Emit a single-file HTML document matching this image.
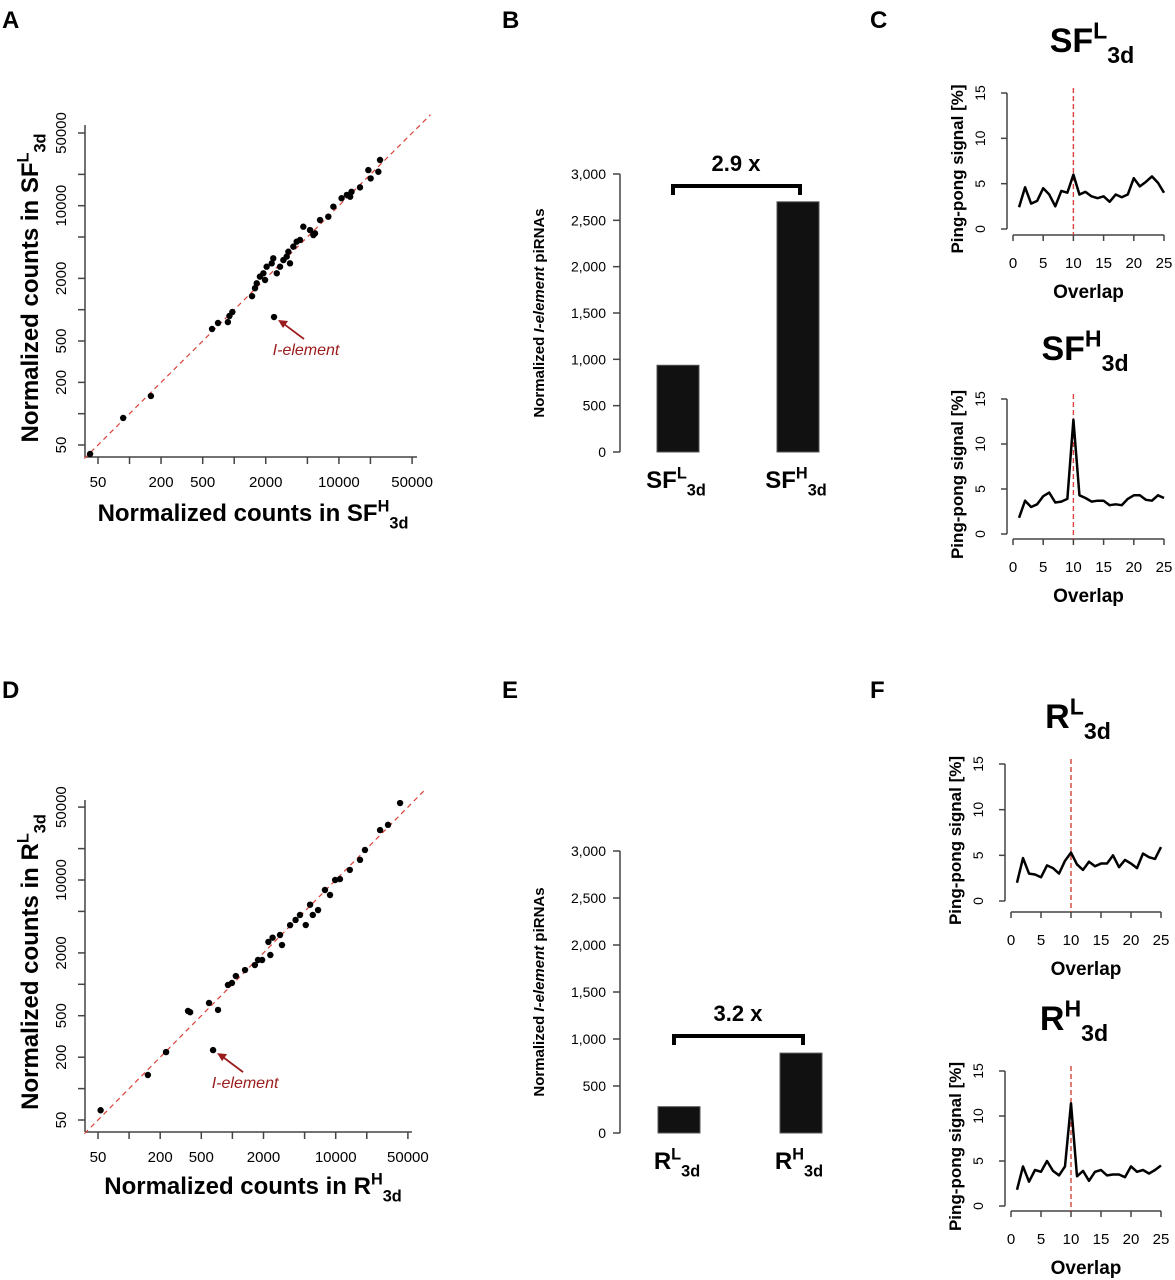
<!DOCTYPE html>
<html><head><meta charset="utf-8"><style>
body{margin:0;background:#fff;}
svg{display:block;font-family:"Liberation Sans",Arial,sans-serif;}
</style></head><body>
<svg id="fig" width="1175" height="1280" viewBox="0 0 1175 1280" xmlns="http://www.w3.org/2000/svg">
<g id="root"></g>
</svg>
<script>
// ---------- DATA ----------
const scatterTicks = [50,100,200,500,1000,2000,5000,10000,20000,50000];
const scatterLabels = [50,200,500,2000,10000,50000];
const sfH = [42,87,160,614,700,870,900,960,1480,1580,1760,1640,1900,2040,2280,2550,2950,3410,3290,3670,4250,4570,5300,5910,6600,7920,8850,10600,11900,13200,15900,19100,20100,23800,24700,2360,1970,5700,12800,2740,3170,3950,2400];
const sfL = [41,91,148,652,745,760,870,950,1350,1610,2080,1795,2240,2590,2790,2240,3000,2790,3610,4040,4680,6280,5830,5420,7280,7840,9790,11800,12700,13600,15000,22000,18300,21200,27500,3120,1930,5220,12200,2590,3240,4510,850];
const rH = [53,152,228,372,390,594,726,990,1325,1940,2230,2450,2890,3620,4510,5650,6750,8810,10990,13700,19200,26900,32100,42000,1770,2330,4090,5130,7870,9880,17200,1650,3020,6000,906,1080,650];
const rL = [62,135,224,555,540,662,568,1030,1370,1710,2550,2800,2970,3690,4620,5800,5150,7180,10200,12500,19400,30100,33800,54700,1710,1910,4140,3700,8020,10000,15600,1530,2380,4620,985,1200,234];
const barTicks = [0,500,1000,1500,2000,2500,3000];
const barTickLabels = ["0","500","1,000","1,500","2,000","2,500","3,000"];
const sfBars = [936,2700];
const rBars = [280,850];
const ppTicks = [0,5,10,15,20,25];
const ppYTicks = [0,5,10,15];
const ppSFL = [2.4,4.6,2.8,3.1,4.5,3.8,2.5,4.2,4.0,6.0,3.8,4.1,3.6,3.4,3.6,3.0,3.8,3.5,3.8,5.6,4.7,5.2,5.8,5.1,4.0];
const ppSFH = [1.8,3.7,3.0,3.3,4.2,4.6,3.5,3.6,3.9,12.7,4.3,4.0,3.6,3.7,3.7,3.2,3.3,3.2,3.9,4.3,4.3,3.8,3.7,4.3,4.0];
const ppRL = [2.0,4.7,3.0,2.9,2.6,3.9,3.6,3.0,4.4,5.3,4.0,3.4,4.3,3.8,4.1,4.1,5.0,3.7,4.5,4.1,3.6,5.2,4.8,4.6,5.9];
const ppRH = [1.8,4.4,2.7,4.0,3.8,5.0,3.9,3.4,4.4,11.4,3.3,3.9,2.8,3.8,4.0,3.4,3.5,3.5,3.2,4.4,3.8,4.0,3.6,4.0,4.5];

// ---------- HELPERS ----------
const NS="http://www.w3.org/2000/svg";
const root=document.getElementById('root');
function el(tag,attrs,parent,text){const e=document.createElementNS(NS,tag);for(const k in attrs)e.setAttribute(k,attrs[k]);if(text!==undefined)e.textContent=text;(parent||root).appendChild(e);return e;}
function grp(name){const g=el('g',{});return g;}

function title(g,x,y,size,base,sup,sub,anchor,rot){
  const t=el('text',{x:x,y:y,'font-size':size,'font-weight':'bold','text-anchor':anchor||'middle',transform:rot?`rotate(-90 ${x} ${y})`:''},g);
  el('tspan',{},t,base);
  el('tspan',{'font-size':size*0.68,dy:-size*0.4},t,sup);
  el('tspan',{'font-size':size*0.68,dy:size*0.72},t,sub);
  return t;
}

function scatter(name,xs,ys,c){
  const g=grp(name);
  const L0=Math.log10(50);
  const X=v=>c.x50+(Math.log10(v)-L0)*c.xs;
  const Y=v=>c.y50-(Math.log10(v)-L0)*c.ys;
  const ax=el('line',{x1:c.axX,y1:c.top,x2:c.axX,y2:c.axY,stroke:'#444','stroke-width':1.5},g);
  
  const ax2=el('line',{x1:c.axX,y1:c.axY,x2:c.right,y2:c.axY,stroke:'#444','stroke-width':1.5},g);
  
  scatterTicks.forEach(t=>{
    el('line',{x1:X(t),y1:c.axY,x2:X(t),y2:c.axY+7,stroke:'#444','stroke-width':1.5},g);
    el('line',{x1:c.axX,y1:Y(t),x2:c.axX-7,y2:Y(t),stroke:'#444','stroke-width':1.5},g);
  });
  scatterLabels.forEach(t=>{
    const a=el('text',{x:X(t),y:c.axY+30,'font-size':15,'text-anchor':'middle'},g,String(t));
    
    const b=el('text',{x:c.axX-19,y:Y(t),'font-size':15,'text-anchor':'middle',transform:`rotate(-90 ${c.axX-19} ${Y(t)})`},g,String(t));
    
  });
  const d=el('line',{x1:X(c.dmin),y1:Y(c.dmin),x2:X(c.dmax),y2:Y(c.dmax),stroke:'#d9413a','stroke-width':1.2,'stroke-dasharray':'5,4'},g);
  
  xs.forEach((v,i)=>{
    const p=el('circle',{cx:X(v),cy:Y(ys[i]),r:3.2,fill:'#000'},g);
    
  });
  const n=xs.length-1,px=X(xs[n]),py=Y(ys[n]);
  const ar=el('line',{x1:px+30,y1:py+22,x2:px+6,y2:py+4,stroke:'#9b1c1c','stroke-width':1.8},g);
  
  el('polygon',{points:`${px+4},${py+3} ${px+14},${py+4} ${px+9},${py+11}`,fill:'#9b1c1c'},g);
  const lt=el('text',{x:px+32,y:py+38,'font-size':16,'font-style':'italic',fill:'#9b1c1c','text-anchor':'middle'},g,'I-element');
  
  const xt=title(g,c.xtX,c.xtY,24,'Normalized counts in '+c.lbl,'H','3d');
  
  const yt=title(g,c.ytX,c.ytY,24,'Normalized counts in '+c.lbl,'L','3d','middle',true);
  
}

function bars(name,vals,c){
  const g=grp(name);
  const Y=v=>c.y0-v*(c.y0-c.y3000)/3000;
  const ax=el('line',{x1:c.axX,y1:Y(0),x2:c.axX,y2:Y(3000),stroke:'#444','stroke-width':1.5},g);
  
  barTicks.forEach((t,i)=>{
    el('line',{x1:c.axX,y1:Y(t),x2:c.axX-7,y2:Y(t),stroke:'#444','stroke-width':1.5},g);
    const l=el('text',{x:c.axX-14,y:Y(t)+5,'font-size':14,'text-anchor':'end'},g,barTickLabels[i]);
    
  });
  const t=el('text',{x:c.ytX,y:(Y(0)+Y(3000))/2,'font-size':15,'font-weight':'bold','text-anchor':'middle',transform:`rotate(-90 ${c.ytX} ${(Y(0)+Y(3000))/2})`},g);
  
  el('tspan',{},t,'Normalized ');el('tspan',{'font-style':'italic'},t,'I-element');el('tspan',{},t,' piRNAs');
  const sups=['L','H'];
  vals.forEach((v,i)=>{
    const cx=c.cx[i];
    const r=el('rect',{x:cx-21,y:Y(v),width:42,height:Y(0)-Y(v),fill:'#111',stroke:'#555','stroke-width':1},g);
    
    const lb=title(g,cx-2,Y(0)+36,24,c.lbl,sups[i],'3d');
    
  });
  const by=c.brY;
  const br=el('path',{d:`M${c.cx[0]-5},${by+9} V${by} H${c.cx[1]+2} V${by+9}`,fill:'none',stroke:'#000','stroke-width':4},g);
  
  const fx=el('text',{x:(c.cx[0]+c.cx[1])/2-2,y:by-15,'font-size':22,'font-weight':'bold','text-anchor':'middle'},g,c.fold);
  
}

function pp(name,vals,c,ttl){
  const g=grp(name);
  const X=v=>c.x0+v*(c.x25-c.x0)/25;
  const Y=v=>c.y0-v*(c.y0-c.y15)/15;
  const ya=el('line',{x1:c.axX,y1:Y(0),x2:c.axX,y2:Y(15),stroke:'#444','stroke-width':1.5},g);
  
  const xa=el('line',{x1:X(0),y1:c.axY,x2:X(25),y2:c.axY,stroke:'#444','stroke-width':1.5},g);
  
  ppYTicks.forEach(t=>{
    el('line',{x1:c.axX,y1:Y(t),x2:c.axX-6,y2:Y(t),stroke:'#444','stroke-width':1.5},g);
    const l=el('text',{x:c.axX-22,y:Y(t),'font-size':14,'text-anchor':'middle',transform:`rotate(-90 ${c.axX-22} ${Y(t)})`},g,String(t));
    
  });
  ppTicks.forEach(t=>{
    el('line',{x1:X(t),y1:c.axY,x2:X(t),y2:c.axY+6,stroke:'#444','stroke-width':1.5},g);
    const l=el('text',{x:X(t),y:c.axY+33,'font-size':15,'text-anchor':'middle'},g,String(t));
    
  });
  const ref=el('line',{x1:X(10),y1:Y(15)-5,x2:X(10),y2:c.axY,stroke:'#d9413a','stroke-width':1.4,'stroke-dasharray':'5,3'},g);
  
  const pts=vals.map((v,i)=>X(i+1)+','+Y(v)).join(' ');
  const ln=el('polyline',{points:pts,fill:'none',stroke:'#000','stroke-width':2.5,'stroke-linejoin':'round'},g);
  
  const xt=el('text',{x:X(12.5),y:c.axY+63,'font-size':19,'font-weight':'bold','text-anchor':'middle'},g,'Overlap');
  
  const yx=c.axX-44, yy=(Y(0)+Y(15))/2+8;
  const yt=el('text',{x:yx,y:yy,'font-size':17,'font-weight':'bold','text-anchor':'middle',transform:`rotate(-90 ${yx} ${yy})`},g,'Ping-pong signal [%]');
  
  const tt=title(g,c.tX,c.tY,34,ttl[0],ttl[1],'3d');
  
}

// ---------- PANEL LETTERS ----------
[['A',2,28],['B',502,28],['C',870,28],['D',2,698],['E',502,698],['F',870,698]].forEach(p=>{
  const t=el('text',{x:p[1],y:p[2],'font-size':24,'font-weight':'bold'},root,p[0]);
  
  
});

// ---------- CHARTS ----------
scatter('scatter-sf',sfH,sfL,{x50:98,xs:104.7,y50:445,ys:104,axX:85,axY:457,top:125,right:417,dmin:37,dmax:75000,lbl:'SF',xtX:253,xtY:521,ytX:38,ytY:288});
scatter('scatter-r',rH,rL,{x50:98,xs:103.3,y50:1120,ys:104.3,axX:85,axY:1132,top:800,right:412,dmin:37,dmax:75000,lbl:'R',xtX:253,xtY:1194,ytX:38,ytY:962});

bars('bars-sf',sfBars,{axX:620,y0:452,y3000:174,ytX:544,cx:[678,798],lbl:'SF',brY:186,fold:'2.9 x'});
bars('bars-r',rBars,{axX:620,y0:1133,y3000:851,ytX:544,cx:[679,801],lbl:'R',brY:1036,fold:'3.2 x'});

pp('pingpong-sf-l',ppSFL,{axX:1007,axY:235,x0:1013,x25:1164,y0:229,y15:93,tX:1092,tY:52},['SF','L']);
pp('pingpong-sf-h',ppSFH,{axX:1007,axY:539,x0:1013,x25:1164,y0:534,y15:399,tX:1085,tY:360},['SF','H']);
pp('pingpong-r-l',ppRL,{axX:1005,axY:912,x0:1011,x25:1161,y0:901,y15:764,tX:1078,tY:728},['R','L']);
pp('pingpong-r-h',ppRH,{axX:1005,axY:1211,x0:1011,x25:1161,y0:1206,y15:1071,tX:1074,tY:1030},['R','H']);
</script>
</body></html>
